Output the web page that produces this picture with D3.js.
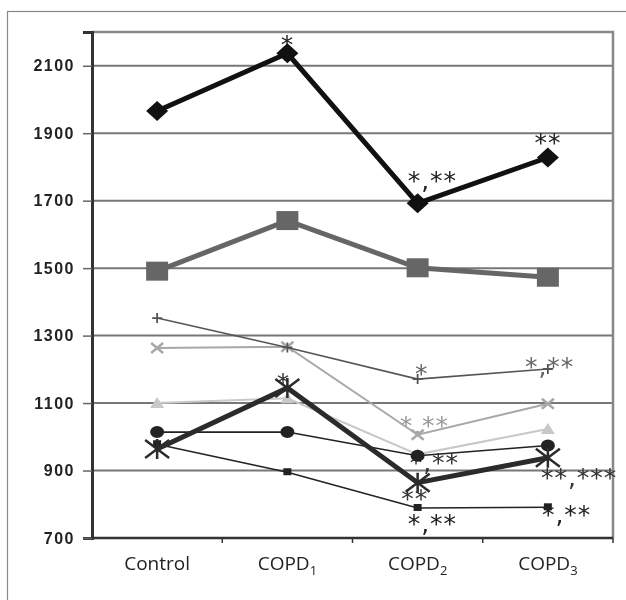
<!DOCTYPE html>
<html>
<head>
<meta charset="utf-8">
<script src="https://cdn.jsdelivr.net/npm/d3@7"></script>
<style>
  body { margin: 0; background: #fff; }
  svg text { will-change: transform; }
</style>
</head>
<body>
<div id="chart"></div>
<script>
// categories (base + subscript)
const categoryBase = ["Control", "COPD", "COPD", "COPD"];
const categorySub = ["", "1", "2", "3"];
const yTicks = [700, 900, 1100, 1300, 1500, 1700, 1900, 2100];

// series values
const diamondValues = [1966, 2137, 1692, 1828];
const squareValues = [1491, 1641, 1501, 1473];
const plusValues = [1352, 1265, 1171, 1201];
const crossValues = [1263, 1267, 1006, 1098];
const triangleValues = [1100, 1114, 948, 1023];
const circleValues = [1014, 1014, 944, 974];
const starValues = [964, 1145, 864, 938];
const dashValues = [978, 895, 789, 791];

// significance marks: [series, category, text]
const marks = [
  ["diamond", 1, "*"], ["diamond", 2, "*,**"], ["diamond", 3, "**"],
  ["plus", 2, "*"], ["plus", 3, "*,**"],
  ["cross", 2, "*,**"],
  ["circle", 2, "*,**"],
  ["star", 1, "*"], ["star", 2, "**"], ["star", 3, "**,***"],
  ["dash", 2, "*,**"], ["dash", 3, "*,**"]
];
// where each mark sits relative to its point: dx, dy, anchor
const markPlace = [
  [0, 0, "middle"], [-10, -14, "start"], [0, -6, "middle"],
  [4, 3, "middle"], [-23, 6, "start"],
  [-18, -1, "start"],
  [-8, 15, "start"],
  [-4, 3, "middle"], [-3, 24, "middle"], [-7, 28, "start"],
  [-10, 24, "start"], [-6, 16, "start"]
];

const W = 626, H = 600;
const margin = { top: 32, right: 13, bottom: 62, left: 92 };
const width = W - margin.left - margin.right;
const height = H - margin.top - margin.bottom;

const svg = d3.select("#chart").append("svg")
  .attr("width", W).attr("height", H);

// outer frame
svg.append("rect")
  .attr("x", 7.5).attr("y", 11.5)
  .attr("width", 700).attr("height", 700)
  .attr("fill", "none").attr("stroke", "#888").attr("stroke-width", 1.2);

const g = svg.append("g").attr("transform", `translate(${margin.left},${margin.top})`);

const x = d3.scaleBand().domain(d3.range(categoryBase.length)).range([0, width]);
const y = d3.scaleLinear().domain([700, 2200]).range([height, 0]);
const cx = i => x(i) + x.bandwidth() / 2;

// gridlines
g.selectAll("line.grid").data(yTicks.slice(1)).join("line")
  .attr("class", "grid")
  .attr("x1", 0).attr("x2", width)
  .attr("y1", d => y(d)).attr("y2", d => y(d))
  .attr("stroke", "#777").attr("stroke-width", 2);

// plot border top / right
g.append("path")
  .attr("d", `M0,0H${width}V${height}`)
  .attr("fill", "none").attr("stroke", "#888").attr("stroke-width", 2.5);

// y axis
const yAxis = g.append("g")
  .call(d3.axisLeft(y).tickValues(yTicks).tickFormat(d3.format("d")).tickSize(9).tickPadding(8));
yAxis.select(".domain").attr("stroke", "#333").attr("stroke-width", 3);
yAxis.selectAll(".tick line").attr("stroke", "#666").attr("stroke-width", 1.5);
yAxis.selectAll(".tick text")
  .attr("font-family", "Liberation Sans, Arial, sans-serif")
  .attr("font-weight", "bold").attr("font-size", 16)
  .attr("letter-spacing", 1.5)
  .attr("fill", "#222");

// x axis line + boundary ticks
g.append("line")
  .attr("x1", 0).attr("x2", width).attr("y1", height).attr("y2", height)
  .attr("stroke", "#333").attr("stroke-width", 2.5);
g.selectAll("line.xtick").data(d3.range(1, categoryBase.length + 1)).join("line")
  .attr("class", "xtick")
  .attr("x1", d => d * x.step()).attr("x2", d => d * x.step())
  .attr("y1", height).attr("y2", height + 5)
  .attr("stroke", "#333").attr("stroke-width", 1.5);

const xl = g.selectAll("text.xlab").data(categoryBase).join("text")
  .attr("class", "xlab")
  .attr("x", (d, i) => cx(i)).attr("y", height + 32)
  .attr("text-anchor", "middle")
  .attr("font-family", "Open Sans, Noto Sans, sans-serif")
  .attr("font-size", 19).attr("fill", "#222");
xl.append("tspan").text(d => d);
xl.append("tspan").text((d, i) => categorySub[i])
  .attr("font-size", 13).attr("dy", 5);

// series
const series = [
  { key: "triangle", values: triangleValues, color: "#c8c8c8", w: 2 },
  { key: "cross", values: crossValues, color: "#a8a8a8", w: 2 },
  { key: "plus", values: plusValues, color: "#555", w: 1.6 },
  { key: "dash", values: dashValues, color: "#222", w: 1.6 },
  { key: "circle", values: circleValues, color: "#222", w: 1.6 },
  { key: "square", values: squareValues, color: "#666", w: 5 },
  { key: "star", values: starValues, color: "#2b2b2b", w: 5 },
  { key: "diamond", values: diamondValues, color: "#111", w: 5 }
];
const byKey = {};
series.forEach(s => byKey[s.key] = s);

const line = d3.line().x((d, i) => cx(i)).y(d => y(d));

// marks drawn under markers
const markColor = { diamond: "#222", plus: "#666", cross: "#9a9a9a", circle: "#333", star: "#333", dash: "#222" };
g.selectAll("text.mark").data(marks).join("text")
  .attr("class", "mark")
  .attr("x", (d, i) => cx(d[1]) + markPlace[i][0])
  .attr("y", (d, i) => y(byKey[d[0]].values[d[1]]) + markPlace[i][1])
  .attr("text-anchor", (d, i) => markPlace[i][2])
  .attr("font-family", "DejaVu Sans, sans-serif")
  .attr("font-size", 25).attr("letter-spacing", 1)
  .attr("fill", d => markColor[d[0]])
  .text(d => d[2]);

function marker(sel, s) {
  const pts = sel.selectAll("g.pt").data(s.values).join("g")
    .attr("class", "pt")
    .attr("transform", (d, i) => `translate(${cx(i)},${y(d)})`);
  if (s.key === "diamond") {
    pts.append("path").attr("d", "M0,-10L11,0L0,10L-11,0Z").attr("fill", s.color);
  } else if (s.key === "square") {
    pts.append("rect").attr("x", -11).attr("y", -9.5).attr("width", 22).attr("height", 19).attr("fill", s.color);
  } else if (s.key === "plus") {
    pts.append("path").attr("d", "M-5,0H5M0,-5V5").attr("stroke", s.color).attr("stroke-width", 1.8);
  } else if (s.key === "cross") {
    pts.append("path").attr("d", "M-6,-5L6,5M-6,5L6,-5").attr("stroke", s.color).attr("stroke-width", 2.5);
  } else if (s.key === "triangle") {
    pts.append("path").attr("d", "M0,-6L7,5L-7,5Z").attr("fill", s.color);
  } else if (s.key === "circle") {
    pts.append("ellipse").attr("rx", 7).attr("ry", 6).attr("fill", s.color);
  } else if (s.key === "star") {
    pts.append("path").attr("d", "M-12,-9L12,9M-12,9L12,-9M0,-10V10")
      .attr("stroke", s.color).attr("stroke-width", 2.5);
  } else if (s.key === "dash") {
    pts.append("rect").attr("x", -4).attr("y", -4).attr("width", 8).attr("height", 7).attr("fill", s.color);
  }
}

series.forEach(s => {
  const sg = g.append("g");
  sg.append("path").datum(s.values)
    .attr("d", line)
    .attr("fill", "none")
    .attr("stroke", s.color)
    .attr("stroke-width", s.w)
    .attr("stroke-linejoin", "miter");
  marker(sg, s);
});
</script>
</body>
</html>
